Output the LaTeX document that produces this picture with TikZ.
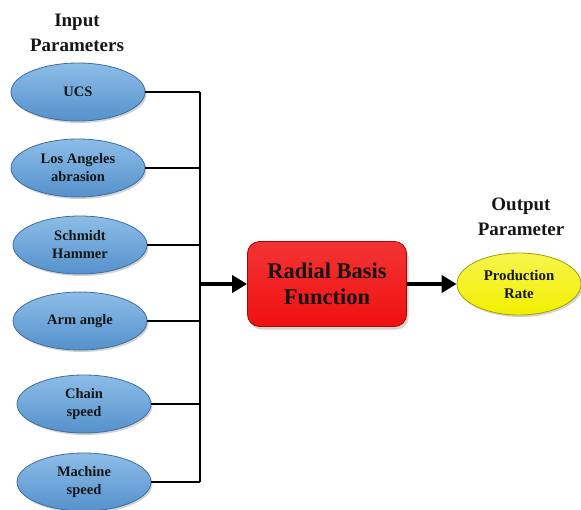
\documentclass[tikz,border=0pt]{standalone}
\usepackage{fontspec}
\setmainfont{Liberation Serif}
\usetikzlibrary{arrows.meta,shadows,shapes.geometric}

\definecolor{inblue}{HTML}{5591CC}
\definecolor{inblueL}{HTML}{8DBDE8}
\definecolor{inedge}{HTML}{3F6E9E}
\definecolor{rbfred}{HTML}{F01010}
\definecolor{rbfedge}{HTML}{B00000}
\definecolor{outyel}{HTML}{F2F000}
\definecolor{outedge}{HTML}{A8A000}
\definecolor{txt}{HTML}{161616}

\tikzset{
  inpar/.style={ellipse, draw=inedge, line width=0.8pt, top color=inblueL, bottom color=inblue,
    minimum width=134pt, minimum height=58pt, inner sep=0pt, align=center,
    font=\fontsize{14.5}{18}\selectfont\bfseries, text=txt,
    drop shadow={shadow xshift=1.5pt, shadow yshift=-2pt, opacity=0.35}},
  rbfbox/.style={rectangle, rounded corners=12pt, draw=rbfedge, line width=0.8pt,
    top color=rbfred!85!white, bottom color=rbfred, minimum width=159pt, minimum height=85pt,
    align=center, font=\fontsize{22.5}{26}\selectfont\bfseries, text=txt,
    drop shadow={shadow xshift=2pt, shadow yshift=-3pt, opacity=0.35}},
  outpar/.style={ellipse, draw=outedge, line width=0.8pt, top color=outyel!70!white, bottom color=outyel,
    minimum width=124pt, minimum height=62pt, inner sep=0pt, align=center,
    font=\fontsize{14.8}{18}\selectfont\bfseries, text=txt,
    drop shadow={shadow xshift=1.5pt, shadow yshift=-2pt, opacity=0.35}},
  heading/.style={align=center, font=\fontsize{19}{25}\selectfont\bfseries, text=txt},
  bus/.style={line width=1.8pt, black},
  feed/.style={line width=4.5pt, black, -{Triangle[length=15pt, width=17pt]}},
}

\begin{document}
\begin{tikzpicture}[x=1pt, y=-1pt]
  \useasboundingbox (0,0) rectangle (581,509);

  % Titles
  \node[heading] (inhead) at (77,33) {Input\\Parameters};
  \node[heading] (outhead) at (521,217) {Output\\Parameter};

  % Input parameters
  \node[inpar] (ucs) at (78,92) {UCS};
  \node[inpar] (laa) at (78,168) {Los Angeles\\abrasion};
  \node[inpar] (sh) at (80,245) {Schmidt\\Hammer};
  \node[inpar] (arm) at (80,321) {Arm angle};
  \node[inpar] (chain) at (84,404) {Chain\\speed};
  \node[inpar] (mach) at (84,482) {Machine\\speed};

  % Model and output
  \node[rbfbox] (rbf) at (327,284) {Radial Basis\\Function};
  \node[outpar] (prod) at (519,284) {Production\\Rate};

  % Collecting line
  \coordinate (bus) at (200,284);
  \draw[bus] (ucs.east -| bus) -- (mach.east -| bus);
  \foreach \n in {ucs,laa,sh,arm,chain,mach}
    \draw[bus] (\n.east) -- (\n.east -| bus);

  % Arrows
  \draw[feed] (bus) -- (rbf.west);
  \draw[feed] (rbf.east) -- (prod.west);
\end{tikzpicture}
\end{document}
